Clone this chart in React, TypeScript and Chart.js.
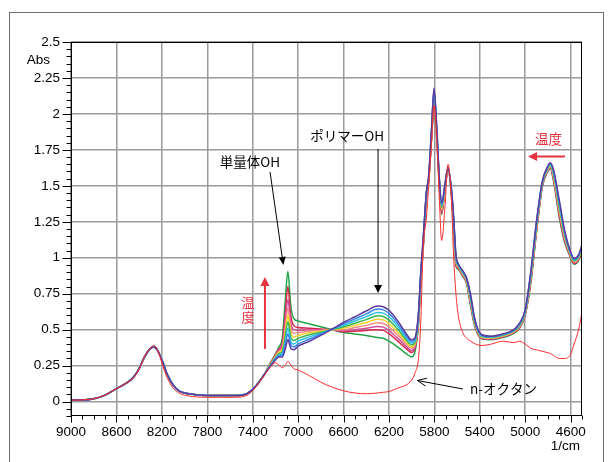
import React, { useEffect, useRef } from "react";
import { Chart, registerables } from "chart.js";
Chart.register(...registerables);

// wavenumbers (1/cm), descending
const wavenumbers = [
  9000, 8900, 8800, 8700, 8600, 8500, 8450, 8400, 8350, 8300, 8270, 8240, 8200, 8150, 8100, 8050, 8000, 7900, 7800, 7700,
  7600, 7500, 7450, 7400, 7350, 7300,
  7250, 7200, 7170, 7140, 7115, 7090, 7065, 7040, 7000, 6900, 6800, 6700, 6600, 6500, 6400, 6300, 6250, 6200, 6150, 6100,
  6050, 6000, 5970, 5940, 5920, 5900, 5870, 5850, 5825, 5803, 5780, 5757, 5736, 5707, 5680, 5650, 5630, 5610, 5590, 5550,
  5516, 5480, 5450, 5420, 5380, 5300, 5200, 5100, 5050, 5000, 4950, 4900, 4850, 4800, 4780, 4750, 4700, 4650, 4600, 4570,
  4530, 4500,
];

// 9000-7300 region, where all temperature spectra coincide
const sharedLowRegion = [
  0.012, 0.012, 0.02, 0.045, 0.09, 0.135, 0.17, 0.23, 0.315, 0.37, 0.38, 0.36, 0.29, 0.185, 0.115, 0.075, 0.06, 0.048, 0.043,
  0.042, 0.042, 0.045, 0.055, 0.085, 0.13, 0.185,
];

// 7250-4500 for each temperature (coldest -> hottest)
const tempPurple = [
  0.24, 0.29, 0.31, 0.31, 0.36, 0.43, 0.37, 0.36, 0.385, 0.42, 0.46, 0.505, 0.55, 0.59, 0.63, 0.665, 0.66, 0.635, 0.59, 0.535,
  0.475, 0.43, 0.445, 0.62, 0.9, 1.12, 1.46, 1.57, 1.9, 2.18, 1.92, 1.56, 1.38, 1.51, 1.63, 1.48, 1.28, 1.02, 0.96, 0.91,
  0.86, 0.74, 0.6, 0.51, 0.465, 0.455, 0.47, 0.5, 0.545, 0.64, 0.91, 1.26, 1.53, 1.64, 1.66, 1.61, 1.4, 1.18, 1.04, 0.995,
  1.02, 1.09,
];
const tempBlue = [
  0.242, 0.295, 0.318, 0.322, 0.385, 0.47, 0.395, 0.38, 0.4, 0.435, 0.468, 0.505, 0.54, 0.575, 0.61, 0.643, 0.638, 0.613,
  0.57, 0.517, 0.46, 0.42, 0.435, 0.61, 0.89, 1.11, 1.455, 1.565, 1.89, 2.17, 1.91, 1.555, 1.37, 1.505, 1.628, 1.475, 1.27,
  1.01, 0.955, 0.905, 0.855, 0.73, 0.59, 0.505, 0.46, 0.452, 0.467, 0.497, 0.54, 0.635, 0.9, 1.25, 1.525, 1.635, 1.655, 1.6,
  1.385, 1.17, 1.035, 0.99, 1.015, 1.085,
];
const tempCyan = [
  0.245, 0.3, 0.326, 0.334, 0.41, 0.51, 0.42, 0.4, 0.42, 0.45, 0.475, 0.503, 0.53, 0.56, 0.59, 0.62, 0.615, 0.59, 0.55, 0.5,
  0.445, 0.407, 0.425, 0.6, 0.88, 1.1, 1.45, 1.56, 1.88, 2.155, 1.9, 1.55, 1.36, 1.5, 1.625, 1.47, 1.26, 1.0, 0.95, 0.9, 0.85,
  0.72, 0.58, 0.5, 0.455, 0.449, 0.464, 0.494, 0.535, 0.63, 0.89, 1.24, 1.52, 1.63, 1.65, 1.59, 1.37, 1.16, 1.03, 0.985,
  1.01, 1.08,
];
const tempGreen = [
  0.248, 0.305, 0.334, 0.346, 0.44, 0.555, 0.45, 0.425, 0.44, 0.465, 0.482, 0.5, 0.52, 0.545, 0.57, 0.597, 0.592, 0.567,
  0.528, 0.482, 0.43, 0.395, 0.415, 0.59, 0.87, 1.09, 1.445, 1.555, 1.87, 2.14, 1.89, 1.545, 1.35, 1.495, 1.622, 1.465, 1.25,
  0.99, 0.945, 0.895, 0.845, 0.71, 0.57, 0.495, 0.45, 0.446, 0.461, 0.491, 0.53, 0.625, 0.88, 1.23, 1.515, 1.625, 1.645,
  1.58, 1.355, 1.15, 1.025, 0.98, 1.005, 1.075,
];
const tempYellow = [
  0.25, 0.31, 0.342, 0.358, 0.47, 0.6, 0.48, 0.45, 0.46, 0.478, 0.49, 0.5, 0.51, 0.53, 0.55, 0.573, 0.568, 0.543, 0.505,
  0.463, 0.415, 0.382, 0.405, 0.58, 0.86, 1.08, 1.44, 1.55, 1.86, 2.125, 1.88, 1.54, 1.34, 1.49, 1.62, 1.46, 1.24, 0.98, 0.94,
  0.89, 0.84, 0.7, 0.565, 0.49, 0.447, 0.443, 0.458, 0.488, 0.526, 0.62, 0.87, 1.22, 1.51, 1.62, 1.64, 1.57, 1.34, 1.14,
  1.02, 0.975, 1.0, 1.07,
];
const tempSalmon = [
  0.252, 0.315, 0.35, 0.37, 0.5, 0.65, 0.515, 0.475, 0.48, 0.49, 0.495, 0.5, 0.5, 0.515, 0.53, 0.548, 0.543, 0.52, 0.483,
  0.445, 0.4, 0.37, 0.395, 0.57, 0.85, 1.07, 1.435, 1.545, 1.85, 2.11, 1.87, 1.535, 1.33, 1.485, 1.618, 1.455, 1.23, 0.97,
  0.935, 0.885, 0.835, 0.69, 0.56, 0.485, 0.444, 0.44, 0.455, 0.485, 0.522, 0.615, 0.86, 1.21, 1.505, 1.615, 1.635, 1.56,
  1.325, 1.13, 1.015, 0.97, 0.995, 1.065,
];
const tempMagenta = [
  0.255, 0.32, 0.358, 0.385, 0.54, 0.71, 0.55, 0.5, 0.495, 0.5, 0.5, 0.5, 0.492, 0.5, 0.51, 0.523, 0.518, 0.495, 0.46, 0.425,
  0.385, 0.355, 0.385, 0.56, 0.84, 1.06, 1.43, 1.54, 1.84, 2.095, 1.86, 1.53, 1.32, 1.48, 1.615, 1.45, 1.22, 0.96, 0.93,
  0.88, 0.83, 0.68, 0.555, 0.48, 0.441, 0.437, 0.452, 0.482, 0.518, 0.61, 0.85, 1.2, 1.5, 1.61, 1.63, 1.55, 1.31, 1.12, 1.01,
  0.965, 0.99, 1.06,
];
const tempCrimson = [
  0.258, 0.325, 0.366, 0.405, 0.6, 0.8, 0.6, 0.53, 0.515, 0.51, 0.505, 0.5, 0.485, 0.49, 0.495, 0.5, 0.495, 0.472, 0.44,
  0.405, 0.37, 0.342, 0.375, 0.55, 0.83, 1.05, 1.425, 1.535, 1.83, 2.075, 1.85, 1.525, 1.31, 1.475, 1.612, 1.445, 1.21, 0.95,
  0.925, 0.875, 0.825, 0.67, 0.55, 0.475, 0.438, 0.434, 0.449, 0.479, 0.514, 0.605, 0.84, 1.19, 1.495, 1.605, 1.625, 1.54,
  1.295, 1.11, 1.005, 0.96, 0.985, 1.055,
];
const tempHotGreen = [
  0.26, 0.33, 0.38, 0.44, 0.68, 0.905, 0.67, 0.58, 0.56, 0.54, 0.52, 0.5, 0.48, 0.47, 0.46, 0.445, 0.44, 0.42, 0.395, 0.365,
  0.335, 0.31, 0.35, 0.53, 0.82, 1.04, 1.42, 1.53, 1.82, 2.055, 1.84, 1.52, 1.3, 1.47, 1.61, 1.44, 1.2, 0.94, 0.92, 0.87,
  0.82, 0.66, 0.54, 0.47, 0.435, 0.43, 0.445, 0.475, 0.51, 0.6, 0.83, 1.18, 1.49, 1.6, 1.62, 1.53, 1.28, 1.1, 1.0, 0.955,
  0.98, 1.05,
];

// n-octane reference spectrum (full range)
const octane = [
  0.01, 0.012, 0.02, 0.045, 0.09, 0.135, 0.165, 0.225, 0.315, 0.375, 0.39, 0.365, 0.27, 0.16, 0.095, 0.06, 0.045, 0.033,
  0.03, 0.03, 0.03, 0.033, 0.045, 0.075, 0.125, 0.18,
  0.235, 0.27, 0.255, 0.235, 0.25, 0.28, 0.255, 0.23, 0.22, 0.18, 0.135, 0.1, 0.075, 0.06, 0.055, 0.06, 0.065, 0.07, 0.085,
  0.1, 0.115, 0.15, 0.2, 0.3, 0.55, 1.05, 1.28, 1.5, 1.8, 2.06, 1.84, 1.42, 1.12, 1.35, 1.65, 1.4, 1.0, 0.75, 0.6, 0.48,
  0.44, 0.42, 0.405, 0.395, 0.39, 0.4, 0.42, 0.41, 0.42, 0.4, 0.37, 0.36, 0.35, 0.34, 0.335, 0.32, 0.3, 0.3, 0.33, 0.4, 0.5,
  0.62,
];

const tempSeries = [
  tempPurple, tempBlue, tempCyan, tempGreen, tempYellow, tempSalmon, tempMagenta, tempCrimson, tempHotGreen,
];
const tempColors = [
  "#5b3a9c", "#3a86e8", "#2cc3e6", "#3cb44b", "#f3d22a", "#f08c84", "#d64c9c", "#d42a4c", "#1fa548",
];

const xTickLabels = [9000, 8600, 8200, 7800, 7400, 7000, 6600, 6200, 5800, 5400, 5000, 4600];
const yTickLabels = [0, 0.25, 0.5, 0.75, 1, 1.25, 1.5, 1.75, 2, 2.25, 2.5];

const TICK_FONT = '"Liberation Sans", Arial, sans-serif';
const JP_FONT = '"Noto Sans CJK JP", "Noto Sans", sans-serif';
const RED = "#e6323e";

function drawArrow(ctx: CanvasRenderingContext2D, x1: number, y1: number, x2: number, y2: number,
  color: string, lw: number, headLen: number, headW: number, filled: boolean) {
  const ang = Math.atan2(y2 - y1, x2 - x1);
  const bx = x2 - headLen * Math.cos(ang);
  const by = y2 - headLen * Math.sin(ang);
  const px = -Math.sin(ang) * headW;
  const py = Math.cos(ang) * headW;
  ctx.strokeStyle = color;
  ctx.fillStyle = color;
  ctx.lineWidth = lw;
  ctx.beginPath();
  ctx.moveTo(x1, y1);
  ctx.lineTo(filled ? bx : x2, filled ? by : y2);
  ctx.stroke();
  ctx.beginPath();
  if (filled) {
    ctx.moveTo(x2, y2);
    ctx.lineTo(bx + px, by + py);
    ctx.lineTo(bx - px, by - py);
    ctx.closePath();
    ctx.fill();
  } else {
    ctx.lineWidth = 1;
    ctx.moveTo(bx + px, by + py);
    ctx.lineTo(x2, y2);
    ctx.lineTo(bx - px, by - py);
    ctx.stroke();
  }
}

const decorPlugin = {
  id: "decor",
  afterDatasetsDraw(chart: any) {
    const { ctx, scales } = chart;
    const X = (v: number) => scales.x.getPixelForValue(v);
    const Y = (v: number) => scales.y.getPixelForValue(v);
    ctx.save();
    ctx.font = `13.5px ${JP_FONT}`;
    ctx.textBaseline = "middle";
    // monomer OH
    ctx.fillStyle = "#000";
    ctx.textAlign = "center";
    ctx.fillText("単量体OH", X(7424), Y(1.666));
    drawArrow(ctx, X(7247), Y(1.596), X(7130), Y(0.95), "#000", 1, 8, 3.5, true);
    // polymer OH
    ctx.fillStyle = "#000";
    ctx.textAlign = "center";
    ctx.fillText("ポリマーOH", X(6569), Y(1.846));
    drawArrow(ctx, X(6296), Y(1.756), X(6296), Y(0.755), "#000", 1, 8, 4, true);
    // red vertical 温度 with up arrow
    ctx.font = `13px ${JP_FONT}`;
    ctx.fillStyle = RED;
    ctx.textAlign = "center";
    ctx.textBaseline = "middle";
    const vx = Math.round(X(7441));
    ctx.fillText("温", vx, Math.round(Y(0.69)));
    ctx.fillText("度", vx, Math.round(Y(0.585)));
    drawArrow(ctx, X(7292), Y(0.366), X(7292), Y(0.866), RED, 2, 9, 4.5, true);
    // top-right 温度 with left arrow
    ctx.font = `13.5px ${JP_FONT}`;
    ctx.fillStyle = RED;
    ctx.textAlign = "center";
    ctx.fillText("温度", X(4795), Y(1.829));
    drawArrow(ctx, X(4650), Y(1.704), X(4975), Y(1.704), RED, 2, 9, 4.5, true);
    // n-octane
    ctx.fillStyle = "#000";
    ctx.textAlign = "left";
    ctx.fillText("n-オクタン", X(5486), Y(0.0877));
    drawArrow(ctx, X(5548), Y(0.0877), X(5949), Y(0.1468), "#000", 1, 9, 4, false);
    ctx.restore();
  },
  afterDraw(chart: any) {
    const { ctx, chartArea: a, scales } = chart;
    const xs = scales.x;
    const ys = scales.y;
    ctx.save();
    ctx.strokeStyle = "#000";
    ctx.lineWidth = 1;
    const L = Math.round(a.left) + 0.5;
    const R = Math.round(a.right) - 0.5;
    const T = Math.round(a.top) + 0.5;
    const B = Math.round(a.bottom) - 0.5;
    ctx.strokeRect(L, T, R - L, B - T);
    // y ticks: major 0.25, minor 0.05
    ctx.beginPath();
    for (let k = -2; k <= 50; k++) {
      const v = k * 0.05;
      const py = Math.round(ys.getPixelForValue(v)) + 0.5;
      const major = k % 5 === 0 && k >= 0;
      ctx.moveTo(L - (major ? 9 : 5), py);
      ctx.lineTo(L, py);
    }
    // x ticks: major every 400, minor every 100
    for (let w = 9000; w >= 4500; w -= 100) {
      const px = Math.round(xs.getPixelForValue(w)) + 0.5;
      const major = (9000 - w) % 400 === 0;
      ctx.moveTo(px, B);
      ctx.lineTo(px, B + (major ? 7 : 4));
    }
    ctx.stroke();
    // axis titles
    ctx.fillStyle = "#000";
    ctx.font = `13.5px ${TICK_FONT}`;
    ctx.textBaseline = "middle";
    ctx.textAlign = "right";
    ctx.fillText("Abs", a.left - 21, ys.getPixelForValue(2.37));
    ctx.fillText("1/cm", a.right - 2, a.bottom + 30);
    ctx.restore();
  },
};

export default function App() {
  const ref = useRef<HTMLCanvasElement | null>(null);
  useEffect(() => {
    if (!ref.current) return;
    const toPts = (vals: number[]) =>
      vals.slice(0, wavenumbers.length).map((v, i) => ({ x: wavenumbers[i], y: v }));
    const datasets: any[] = [
      {
        label: "n-オクタン",
        data: toPts(octane),
        borderColor: "#ff2b2b",
        borderWidth: 1,
        pointRadius: 0,
        cubicInterpolationMode: "monotone",
      },
      ...tempSeries.map((tail, i) => ({
        label: `T${i + 1}`,
        data: toPts(sharedLowRegion.concat(tail)),
        borderColor: tempColors[i],
        borderWidth: 1.5,
        pointRadius: 0,
        cubicInterpolationMode: "monotone",
      })),
    ];
    const chart = new Chart(ref.current, {
      type: "line",
      data: { datasets },
      options: {
        animation: false,
        responsive: false,
        devicePixelRatio: 1,
        layout: { padding: { left: 0, top: 42, right: 31, bottom: 0 } },
        plugins: { legend: { display: false }, tooltip: { enabled: false } },
        scales: {
          x: {
            type: "linear",
            reverse: true,
            min: 4500,
            max: 9000,
            afterBuildTicks: (s: any) => {
              s.ticks = xTickLabels.map((v) => ({ value: v }));
            },
            afterFit: (s: any) => {
              s.height = 46;
            },
            grid: { color: "#9a9a9a", lineWidth: 1.5, drawTicks: false },
            border: { display: false },
            ticks: {
              padding: 8,
              color: "#000",
              font: { family: TICK_FONT, size: 13.5 },
              maxRotation: 0,
              autoSkip: false,
              callback: (v: any) => String(v),
            },
          },
          y: {
            type: "linear",
            min: -0.1,
            max: 2.5,
            afterBuildTicks: (s: any) => {
              s.ticks = yTickLabels.map((v) => ({ value: v }));
            },
            afterFit: (s: any) => {
              s.width = 71;
            },
            grid: { color: "#9a9a9a", lineWidth: 1.5, drawTicks: false },
            border: { display: false },
            ticks: {
              padding: 11,
              color: "#000",
              font: { family: TICK_FONT, size: 13.5 },
              autoSkip: false,
              callback: (v: any) => String(Number(Number(v).toFixed(2))),
            },
          },
        },
      },
      plugins: [decorPlugin],
    } as any);
    return () => chart.destroy();
  }, []);

  return (
    <div style={{ position: "fixed", left: 0, top: 0, width: 613, height: 462, background: "#fff", overflow: "hidden" }}>
      <div
        style={{
          position: "absolute",
          left: 9,
          top: 12,
          width: 595,
          height: 470,
          border: "1px solid #707070",
          boxSizing: "border-box",
        }}
      />
      <canvas ref={ref} width={613} height={462} style={{ position: "absolute", left: 0, top: 0 }} />
    </div>
  );
}
